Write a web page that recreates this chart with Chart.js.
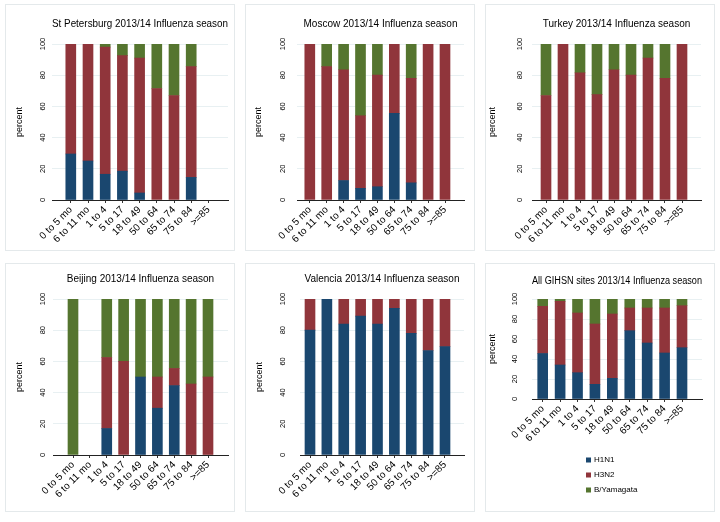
<!DOCTYPE html>
<html>
<head>
<meta charset="utf-8">
<script src="https://cdn.jsdelivr.net/npm/chart.js@4.4.0/dist/chart.umd.min.js"></script>
<style>
  body { margin: 0; background: #fff; }
  #wrap { position: relative; width: 720px; height: 522px; overflow: hidden; }
  .cell { position: absolute; width: 240px; }
  .cell canvas { position: absolute; left: 0; top: 0; }
  .frame { position: absolute; border: 1px solid #e4e9eb; pointer-events: none; }
</style>
</head>
<body>
<div id="wrap"></div>
<script>
const ageGroups = ['0 to 5 mo', '6 to 11 mo', '1 to 4', '5 to 17', '18 to 49', '50 to 64', '65 to 74', '75 to 84', '>=85'];
const strains = ['H1N1', 'H3N2', 'B/Yamagata'];
const yTicks = [0, 20, 40, 60, 80, 100];

// percent of cases by strain, per age group
const stPetersburgH1N1 = [29.5, 25, 16.5, 18.5, 4.5, 0, 0, 14.5, 0];
const stPetersburgH3N2 = [70.5, 75, 81.5, 74, 86.5, 71.5, 67, 71, 0];
const stPetersburgBYam = [0, 0, 2, 7.5, 9, 28.5, 33, 14.5, 0];

const moscowH1N1 = [0, 0, 12.5, 7.5, 8.5, 55.5, 11, 0, 0];
const moscowH3N2 = [100, 85.5, 71, 46.5, 71.5, 44.5, 67, 100, 100];
const moscowBYam = [0, 14.5, 16.5, 46, 20, 0, 22, 0, 0];

const turkeyH1N1 = [0, 0, 0, 0, 0, 0, 0, 0, 0];
const turkeyH3N2 = [67, 100, 81.5, 67.5, 83.5, 80, 91, 78, 100];
const turkeyBYam = [33, 0, 18.5, 32.5, 16.5, 20, 9, 22, 0];

const beijingH1N1 = [0, 0, 17, 0, 50, 30, 44.5, 0, 0];
const beijingH3N2 = [0, 0, 45.5, 60, 0, 20, 11, 45.5, 50];
const beijingBYam = [100, 0, 37.5, 40, 50, 50, 44.5, 54.5, 50];

const valenciaH1N1 = [80, 100, 84, 89, 84, 94, 78, 67, 69.5];
const valenciaH3N2 = [20, 0, 16, 11, 16, 6, 22, 33, 30.5];
const valenciaBYam = [0, 0, 0, 0, 0, 0, 0, 0, 0];

const allSitesH1N1 = [45.5, 34, 26.3, 14.7, 20.7, 68.3, 56, 46, 51.3];
const allSitesH3N2 = [47.2, 63.7, 59.7, 60.3, 64.3, 22.7, 35, 45, 42];
const allSitesBYam = [7.3, 2.3, 14, 25, 15, 9, 9, 9, 6.7];

const colors = ['#1a476f', '#90353b', '#55752f'];
const FONT = '"Liberation Sans", Arial, Helvetica, sans-serif';
Chart.defaults.font.family = FONT;
Chart.defaults.color = '#000';

// layout of each panel (pixels inside its 240px cell)
const panels = [
  { title: 'St Petersburg 2013/14 Influenza season', series: [stPetersburgH1N1, stPetersburgH3N2, stPetersburgBYam],
    x: 0, y: 0, h: 260, left: 52, right: 228, top: 44, bottom: 200, c1: 70.8, c9: 208.4, tickX: 43, pctX: 20, titleY: 24 },
  { title: 'Moscow 2013/14 Influenza season', series: [moscowH1N1, moscowH3N2, moscowBYam],
    x: 240, y: 0, h: 260, left: 57, right: 224, top: 44, bottom: 200, c1: 69.8, c9: 205, tickX: 43, pctX: 19, titleY: 24 },
  { title: 'Turkey 2013/14 Influenza season', series: [turkeyH1N1, turkeyH3N2, turkeyBYam],
    x: 480, y: 0, h: 260, left: 52, right: 221, top: 44, bottom: 200, c1: 66, c9: 202, tickX: 40, pctX: 13, titleY: 24 },
  { title: 'Beijing 2013/14 Influenza season', series: [beijingH1N1, beijingH3N2, beijingBYam],
    x: 0, y: 260, h: 262, left: 53, right: 228, top: 39, bottom: 195, c1: 73, c9: 208, tickX: 43, pctX: 20, titleY: 19 },
  { title: 'Valencia 2013/14 Influenza season', series: [valenciaH1N1, valenciaH3N2, valenciaBYam],
    x: 240, y: 260, h: 262, left: 60, right: 224, top: 39, bottom: 195, c1: 70, c9: 205, tickX: 43, pctX: 20, titleY: 19 },
  { title: 'All GIHSN sites 2013/14 Influenza season', series: [allSitesH1N1, allSitesH3N2, allSitesBYam],
    x: 480, y: 260, h: 262, left: 52, right: 222, top: 39, bottom: 139, c1: 62.7, c9: 202, tickX: 35, pctX: 13, titleY: 21,
    legend: { x: 106, y: 200, step: 15 } }
];

const strainLegend = {
  id: 'strainLegend',
  afterDraw(chart, args, opts) {
    if (!opts || opts.x === undefined) return;
    const ctx = chart.ctx;
    ctx.save();
    chart.data.datasets.forEach((ds, i) => {
      const y = opts.y + i * opts.step;
      ctx.fillStyle = ds.backgroundColor;
      ctx.fillRect(opts.x, y - 2.5, 5, 5);
      ctx.fillStyle = '#000';
      ctx.font = '8px ' + FONT;
      ctx.textBaseline = 'middle';
      ctx.textAlign = 'left';
      ctx.fillText(ds.label, opts.x + 8, y);
    });
    ctx.restore();
  }
};

const wrap = document.getElementById('wrap');

panels.forEach(p => {
  const cell = document.createElement('div');
  cell.className = 'cell';
  cell.style.left = p.x + 'px';
  cell.style.top = p.y + 'px';
  cell.style.height = p.h + 'px';
  const canvas = document.createElement('canvas');
  canvas.width = 240; canvas.height = p.h;
  canvas.style.width = '240px'; canvas.style.height = p.h + 'px';
  cell.appendChild(canvas);
  const frame = document.createElement('div');
  frame.className = 'frame';
  frame.style.left = '5px'; frame.style.top = (p.y === 0 ? 4 : 3) + 'px';
  frame.style.width = '228px'; frame.style.height = (p.h - 15) + 'px';
  cell.appendChild(frame);
  wrap.appendChild(cell);

  const step = (p.c9 - p.c1) / 8;
  const xMin = -(p.c1 - p.left) / step;
  const xMax = 8 + (p.right - p.c9) / step;

  new Chart(canvas, {
    type: 'bar',
    data: {
      labels: ageGroups.map((_, i) => i),
      datasets: strains.map((name, k) => ({
        label: name,
        data: p.series[k].map(v => (v === 0 ? null : v)),
        backgroundColor: colors[k],
        borderWidth: 0,
        barThickness: 10
      }))
    },
    plugins: [strainLegend],
    options: {
      responsive: false,
      animation: false,
      layout: { padding: { left: 0, right: 240 - p.right, top: 0, bottom: 0 } },
      plugins: {
        legend: { display: false },
        tooltip: { enabled: false },
        strainLegend: p.legend || {},
        title: {
          display: true,
          text: p.title,
          fullSize: false,
          color: '#000',
          font: { size: 10, weight: 'normal', lineHeight: 1.2 },
          padding: { top: p.titleY - 6, bottom: p.top - p.titleY - 6 }
        }
      },
      scales: {
        x: {
          type: 'linear',
          stacked: true,
          offset: false,
          min: xMin,
          max: xMax,
          afterBuildTicks: sc => { sc.ticks = ageGroups.map((_, i) => ({ value: i })); },
          afterFit: sc => {
            sc.height = p.h - p.bottom;
            sc.paddingLeft = 0; sc.paddingRight = 0;
          },
          grid: { offset: false, drawOnChartArea: false, drawTicks: true, tickLength: 3, color: '#333' },
          border: { display: true, color: '#222', width: 1 },
          ticks: {
            autoSkip: false, minRotation: 45, maxRotation: 45, padding: 1,
            color: '#000', font: { size: 10 },
            callback: v => ageGroups[v]
          }
        },
        y: {
          stacked: true,
          min: 0,
          max: 100,
          afterBuildTicks: sc => { sc.ticks = yTicks.map(v => ({ value: v })); },
          afterFit: sc => {
            sc.width = p.left;
            sc.paddingTop = 0; sc.paddingBottom = 0;
          },
          grid: { color: '#e8f0f2', drawTicks: false },
          border: { display: false },
          title: { display: true, text: 'percent', color: '#000', font: { size: 9 }, padding: { top: p.pctX - 5.4, bottom: 0 } },
          ticks: {
            minRotation: 90, maxRotation: 90, crossAlign: 'center',
            padding: p.left - p.tickX - 6.3,
            color: '#000', font: { size: 7.5 }
          }
        }
      }
    }
  });
});
</script>
</body>
</html>
